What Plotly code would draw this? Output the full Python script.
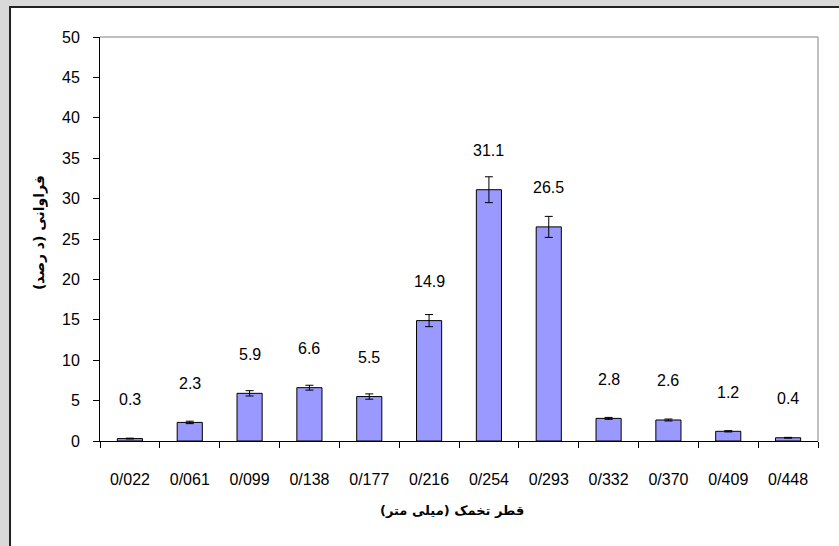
import plotly.graph_objects as go

categories = ["0/022", "0/061", "0/099", "0/138", "0/177", "0/216",
              "0/254", "0/293", "0/332", "0/370", "0/409", "0/448"]
values = [0.3, 2.3, 5.9, 6.6, 5.5, 14.9, 31.1, 26.5, 2.8, 2.6, 1.2, 0.4]
errors = [0.05, 0.15, 0.33, 0.3, 0.33, 0.75, 1.6, 1.3, 0.12, 0.12, 0.08, 0.05]
y_ticks = [0, 5, 10, 15, 20, 25, 30, 35, 40, 45, 50]

FONT = "Liberation Sans Narrow, Arial Narrow, Liberation Sans, Arial, sans-serif"

fig = go.Figure()
fig.add_trace(go.Bar(
    x=categories, y=values, width=0.42,
    marker=dict(color="#9999FF", line=dict(color="black", width=1)),
    error_y=dict(type="data", array=errors, visible=True,
                 color="black", thickness=1, width=4),
    showlegend=False, hoverinfo="x+y",
))

annotations = []
for c, v in zip(categories, values):
    annotations.append(dict(x=c, y=v, xref="x", yref="y", text=f"{v}",
                            showarrow=False, yshift=39, yanchor="middle",
                            font=dict(family=FONT, size=16, color="black")))
annotations.append(dict(x=0.49, y=-0.171, xref="paper", yref="paper",
                        text="<b>قطر تخمک (میلی متر)</b>", showarrow=False,
                        yanchor="middle",
                        font=dict(family="DejaVu Sans, Noto Sans", size=13, color="black")))
annotations.append(dict(x=-0.085, y=0.517, xref="paper", yref="paper",
                        text="<b>فراوانی (د رصد)</b>", showarrow=False,
                        textangle=-90, xanchor="center", yanchor="middle",
                        font=dict(family="DejaVu Sans, Noto Sans", size=14, color="black")))

shapes = [
    # white chart box on gray background
    dict(type="rect", xref="paper", yref="paper",
         x0=-0.1253, x1=1.06, y0=-0.35, y1=1.0743,
         fillcolor="white", line=dict(color="#222222", width=2), layer="below"),
    # plot-area border (top and right)
    dict(type="line", xref="paper", yref="paper", x0=0, x1=1, y0=1, y1=1,
         line=dict(color="#808080", width=1)),
    dict(type="line", xref="paper", yref="paper", x0=1, x1=1, y0=0, y1=1,
         line=dict(color="#808080", width=1)),
]

fig.update_layout(
    width=839, height=546,
    margin=dict(l=100, r=21, t=37, b=105),
    paper_bgcolor="#d9d9d9", plot_bgcolor="white",
    font=dict(family=FONT, size=16, color="black"),
    annotations=annotations, shapes=shapes,
    bargap=0.58,
)
fig.update_xaxes(type="category", showline=True, linecolor="black", linewidth=1,
                 ticks="outside", ticklen=6, tickcolor="black", tickson="boundaries",
                 showgrid=False, ticklabelstandoff=24,
                 tickfont=dict(family=FONT, size=16))
fig.update_yaxes(range=[0, 50], tickvals=y_ticks, showline=True, linecolor="black",
                 linewidth=1, ticks="outside", ticklen=6, tickcolor="black",
                 showgrid=False, zeroline=False, ticklabelstandoff=10,
                 tickfont=dict(family=FONT, size=16))

fig.write_html("out.html",
               config={"displayModeBar": False},
               post_script="document.body.style.margin='0px';"
                           "document.body.style.overflow='hidden';")
